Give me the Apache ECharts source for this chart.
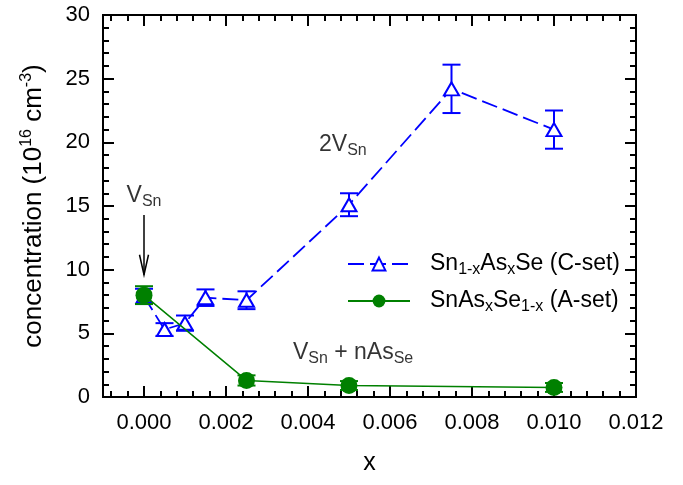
<!DOCTYPE html>
<html><head><meta charset="utf-8">
<script src="https://cdn.jsdelivr.net/npm/echarts@6/dist/echarts.min.js"></script>
<style>html,body{margin:0;padding:0;background:#fff}#c{width:683px;height:485px}</style>
</head><body><div id="c"></div><script>
// Data
const xC = [0, 0.0005, 0.001, 0.0015, 0.0025, 0.005, 0.0075, 0.01];
const yC = [7.9, 5.3, 5.8, 7.8, 7.6, 15.1, 24.2, 21.0];
const errC = [0.6, 0.5, 0.6, 0.65, 0.7, 0.9, 1.9, 1.5];
const xA = [0, 0.0025, 0.005, 0.01];
const yA = [8.0, 1.3, 0.9, 0.75];
const errA = [0.7, 0.4, 0.35, 0.35];
const xMajorTicks = [0, 0.002, 0.004, 0.006, 0.008, 0.010, 0.012];
const xMinorTicks = [-0.0008, -0.0004, 0.0004, 0.0008, 0.0012, 0.0016, 0.0024, 0.0028, 0.0032, 0.0036, 0.0044, 0.0048, 0.0052, 0.0056, 0.0064, 0.0068, 0.0072, 0.0076, 0.0084, 0.0088, 0.0092, 0.0096, 0.0104, 0.0108, 0.0112, 0.0116];
const nameC = 'Sn1-xAsxSe (C-set)';
const nameA = 'SnAsxSe1-x (A-set)';
const annotations = [
  {x: 0, y: 15.8, text: '{n|V}{s|Sn}'},
  {x: 0.00485, y: 19.85, text: '{n|2V}{s|Sn}'},
  {x: 0.0051, y: 3.45, text: '{n|V}{s|Sn}{n| + nAs}{s|Se}'}
];
const arrowData = [[0, 14.3, 9.6]];

const FONT = 'Liberation Sans, Arial, sans-serif';
const BLUE = '#0000ff', GREEN = '#008000';
const richSub = {
  n: {fontSize: 23, fontFamily: FONT, color: '#000', lineHeight: 28, verticalAlign: 'middle'},
  s: {fontSize: 16, fontFamily: FONT, color: '#000', lineHeight: 28, verticalAlign: 'bottom'},
  g: {width: 15}
};

function errSeries(xs, ys, es, color, z) {
  return {
    type: 'custom', z: z, silent: true, xAxisIndex: 0, yAxisIndex: 0,
    data: xs.map((x, i) => [x, ys[i] - es[i], ys[i] + es[i]]),
    encode: {x: 0, y: [1, 2]},
    renderItem(params, api) {
      const x = api.value(0);
      const lo = api.coord([x, api.value(1)]);
      const hi = api.coord([x, api.value(2)]);
      const w = 9;
      const st = {stroke: color, lineWidth: 2, fill: null};
      return {type: 'group', children: [
        {type: 'line', shape: {x1: lo[0], y1: lo[1], x2: hi[0], y2: hi[1]}, style: st},
        {type: 'line', shape: {x1: lo[0] - w, y1: lo[1], x2: lo[0] + w, y2: lo[1]}, style: st},
        {type: 'line', shape: {x1: hi[0] - w, y1: hi[1], x2: hi[0] + w, y2: hi[1]}, style: st}
      ]};
    }
  };
}

function xAxisDef(pos, vals, len, showLabel, name) {
  return {
    type: 'value', position: pos, min: -0.001, max: 0.012,
    axisLine: {show: true, onZero: false, lineStyle: {color: '#000', width: 2}},
    axisTick: {show: true, inside: true, length: len, customValues: vals, lineStyle: {color: '#000', width: 2}},
    axisLabel: {show: showLabel, customValues: xMajorTicks, formatter: v => v.toFixed(3), fontSize: 22, fontFamily: FONT, color: '#000', margin: 15},
    splitLine: {show: false},
    name: name || '', nameLocation: 'middle', nameGap: 54,
    nameTextStyle: {fontSize: 25, fontFamily: FONT, color: '#000'}
  };
}
function yAxisDef(pos, showLabel, name) {
  return {
    type: 'value', position: pos, min: 0, max: 30, interval: 5,
    axisLine: {show: true, onZero: false, lineStyle: {color: '#000', width: 2}},
    axisTick: {show: true, inside: true, length: 11, lineStyle: {color: '#000', width: 2}},
    minorTick: {show: true, splitNumber: 5, length: 6, lineStyle: {color: '#000', width: 2}},
    axisLabel: {show: showLabel, fontSize: 22, fontFamily: FONT, color: '#000', margin: 13},
    splitLine: {show: false}, minorSplitLine: {show: false},
    name: name || '', nameLocation: 'middle', nameGap: 54,
    nameTextStyle: {fontSize: 26, fontFamily: FONT, color: '#000',
      rich: {sup: {fontSize: 16, fontFamily: FONT, color: '#000', verticalAlign: 'top', lineHeight: 30}}}
  };
}

const chart = echarts.init(document.getElementById('c'));
chart.setOption({
  animation: false,
  backgroundColor: '#fff',
  grid: {left: 103, right: 47, top: 15, bottom: 88},
  xAxis: [
    xAxisDef('bottom', xMajorTicks, 11, true, 'x'),
    xAxisDef('bottom', xMinorTicks, 6, false),
    xAxisDef('top', xMajorTicks, 11, false),
    xAxisDef('top', xMinorTicks, 6, false)
  ],
  yAxis: [
    yAxisDef('left', true, 'concentration (10{sup|16} cm{sup|-3})'),
    yAxisDef('right', false)
  ],
  legend: {
    data: [nameC, nameA], orient: 'vertical', left: 342, top: 245,
    itemWidth: 62, itemHeight: 16, itemGap: 9,
    formatter: n => n === nameC ? '{g|}{n|Sn}{s|1-x}{n|As}{s|x}{n|Se (C-set)}' : '{g|}{n|SnAs}{s|x}{n|Se}{s|1-x}{n| (A-set)}',
    textStyle: {fontSize: 23, fontFamily: FONT, color: '#000', lineHeight: 28, rich: richSub}
  },
  series: [
    errSeries(xC, yC, errC, BLUE, 2),
    {
      name: nameC, type: 'line', z: 3,
      data: xC.map((x, i) => [x, yC[i]]),
      symbol: 'triangle', symbolSize: [15, 13],
      itemStyle: {color: '#fff', borderColor: BLUE, borderWidth: 2},
      lineStyle: {color: BLUE, width: 1.8, type: [16, 6]}
    },
    errSeries(xA, yA, errA, GREEN, 4),
    {
      name: nameA, type: 'line', z: 5,
      data: xA.map((x, i) => [x, yA[i]]),
      symbol: 'circle', symbolSize: 17,
      itemStyle: {color: GREEN},
      lineStyle: {color: GREEN, width: 1.5}
    },
    {
      type: 'custom', silent: true, z: 6,
      data: arrowData, encode: {x: 0, y: [1, 2]},
      renderItem(params, api) {
        const a = api.coord([api.value(0), api.value(1)]);
        const b = api.coord([api.value(0), api.value(2)]);
        const st = {stroke: '#000', lineWidth: 1.5, fill: null};
        return {type: 'group', children: [
          {type: 'line', shape: {x1: a[0], y1: a[1], x2: b[0], y2: b[1]}, style: st},
          {type: 'polyline', shape: {points: [[b[0] - 4.5, b[1] - 20], [b[0], b[1]], [b[0] + 4.5, b[1] - 20]]}, style: st}
        ]};
      }
    },
    {
      type: 'scatter', silent: true, z: 7, symbolSize: 0,
      data: annotations.map(a => ({value: [a.x, a.y], name: a.text})),
      label: {show: true, position: 'inside', formatter: p => p.name, rich: richSub}
    }
  ]
});
</script></body></html>
